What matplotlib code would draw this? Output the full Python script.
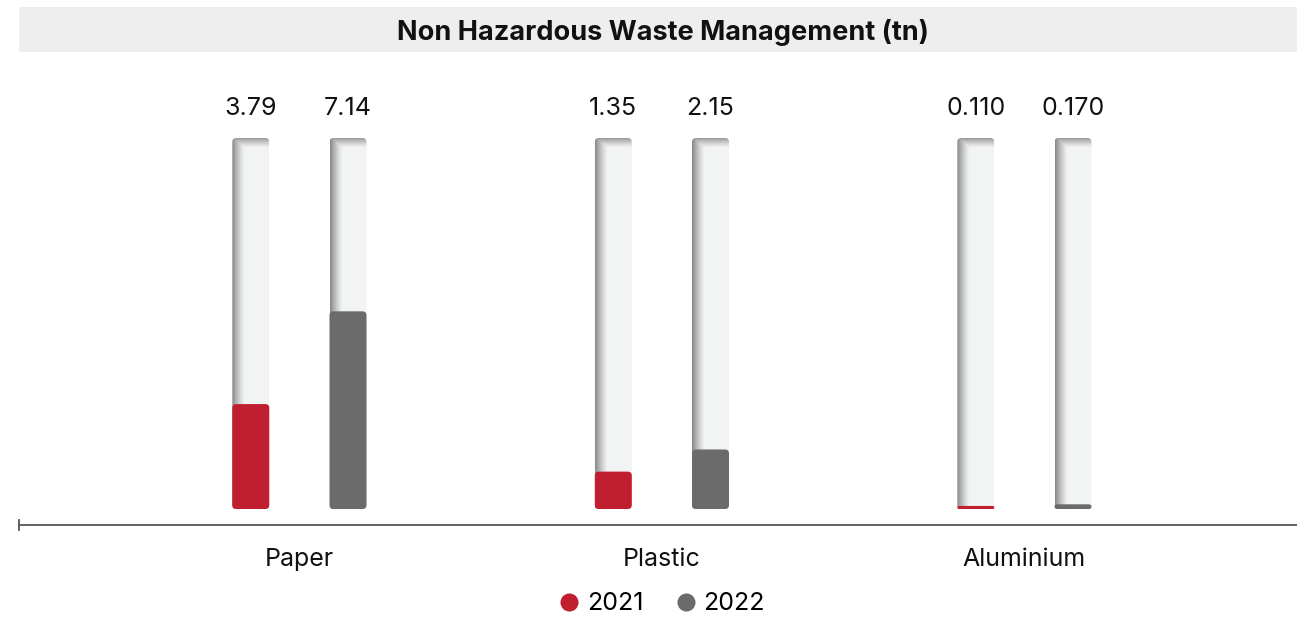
import numpy as np
import matplotlib
matplotlib.use('Agg')
import matplotlib.pyplot as plt
from matplotlib.patches import FancyBboxPatch
from matplotlib.lines import Line2D

plt.rcParams['font.family'] = ['Inter', 'DejaVu Sans']

categories = ['Paper', 'Plastic', 'Aluminium']
years = ['2021', '2022']
values_2021 = [3.79, 1.35, 0.110]
values_2022 = [7.14, 2.15, 0.170]
value_labels_2021 = ['3.79', '1.35', '0.110']
value_labels_2022 = ['7.14', '2.15', '0.170']

red = '#c01f2f'
grey = '#6b6b6b'
track_color = np.array([0xf3, 0xf4, 0xf4]) / 255.0
shadow_color = np.array([0x7a, 0x7a, 0x7a]) / 255.0

W, H = 1297, 621
fig = plt.figure(figsize=(W / 100, H / 100), dpi=100)

# axes geometry in pixels
ax_left, ax_right = 19, 1297
ax_bottom, ax_top = 525, 138
zero_px = 509
group_px = 362.5
first_group_px = 299.4
bar_px = 37
offset_px = 48.6
y_max = 13.4

px_y = (zero_px - ax_top) / y_max   # pixels per value unit
ax = fig.add_axes([ax_left / W, (H - ax_bottom) / H,
                   (ax_right - ax_left) / W, (ax_bottom - ax_top) / H])
ax.set_xlim((ax_left - first_group_px) / group_px, (ax_right - first_group_px) / group_px)
ax.set_ylim(-(ax_bottom - zero_px) / px_y, y_max)

bar_w = bar_px / group_px
off = offset_px / group_px
aspect = group_px / px_y


def rounded(x0, y0, w, h, radius_px, **kw):
    r_px = min(radius_px, h * px_y / 2)
    return FancyBboxPatch((x0, y0), w, h,
                          boxstyle='round,pad=0,rounding_size=%f' % (r_px / group_px),
                          mutation_aspect=aspect, **kw)


# shaded track image: dark fading from the left edge and top edge
nx, ny = bar_px, int(round(y_max * px_y))
xx = np.arange(nx)[None, :] + 0.5
yy = np.arange(ny)[:, None] + 0.5
d_left = np.clip(1 - xx / 13.0, 0, 1) ** 1.3 * 0.9
d_top = np.clip(1 - yy / 10.0, 0, 1) ** 1.3 * 0.75
d = np.maximum(d_left, d_top)[..., None]
track_img = track_color * (1 - d) + shadow_color * d

series = [(values_2021, value_labels_2021, red, -off),
          (values_2022, value_labels_2022, grey, off)]

for i, cat in enumerate(categories):
    for vals, labels, color, dx in series:
        x0 = i + dx - bar_w / 2
        track = rounded(x0, 0, bar_w, y_max, 4, facecolor='none', edgecolor='none')
        ax.add_patch(track)
        im = ax.imshow(track_img, extent=(x0, x0 + bar_w, 0, y_max), origin='upper',
                       aspect='auto', interpolation='bilinear', zorder=1)
        im.set_clip_path(track)
        ax.add_patch(rounded(x0, 0, bar_w, vals[i], 4, facecolor=color,
                             edgecolor='none', zorder=2))
        ax.annotate(labels[i], xy=(i + dx, 1), xycoords=('data', 'axes fraction'),
                    xytext=(0, 23), textcoords='offset pixels',
                    ha='center', va='baseline', fontsize=18, color='#111111')
    ax.annotate(cat, xy=(i, 0), xycoords=('data', 'axes fraction'),
                xytext=(0, -41), textcoords='offset pixels',
                ha='center', va='baseline', fontsize=18, color='#111111')

ax.set_aspect('auto')
for s in ['top', 'left', 'right']:
    ax.spines[s].set_visible(False)
ax.spines['bottom'].set_color('#555555')
ax.spines['bottom'].set_linewidth(1.3)
ax.set_xticks([])
ax.set_yticks([])
ax.plot([0, 0], [-0.012, 0.012], transform=ax.transAxes, color='#555555',
        lw=1.3, clip_on=False)

# title band
fig.patches.append(plt.Rectangle((19 / W, (H - 52) / H), (W - 19) / W, 45 / H,
                                 transform=fig.transFigure, facecolor='#eeeeee',
                                 edgecolor='none', zorder=0))
fig.text(663 / W, (H - 40) / H, 'Non Hazardous Waste Management (tn)',
         ha='center', va='baseline', fontsize=19.5, fontweight='bold', color='#111111')

handles = [Line2D([], [], marker='o', linestyle='none', markersize=13,
                  markerfacecolor=c, markeredgecolor='none') for c in (red, grey)]
fig.legend(handles, years, loc='center', bbox_to_anchor=(662 / W, (H - 604) / H),
           ncol=2, frameon=False, fontsize=18, handlelength=0.8,
           handletextpad=0.3, columnspacing=1.3, borderpad=0)

fig.savefig('out.png', dpi=100)
